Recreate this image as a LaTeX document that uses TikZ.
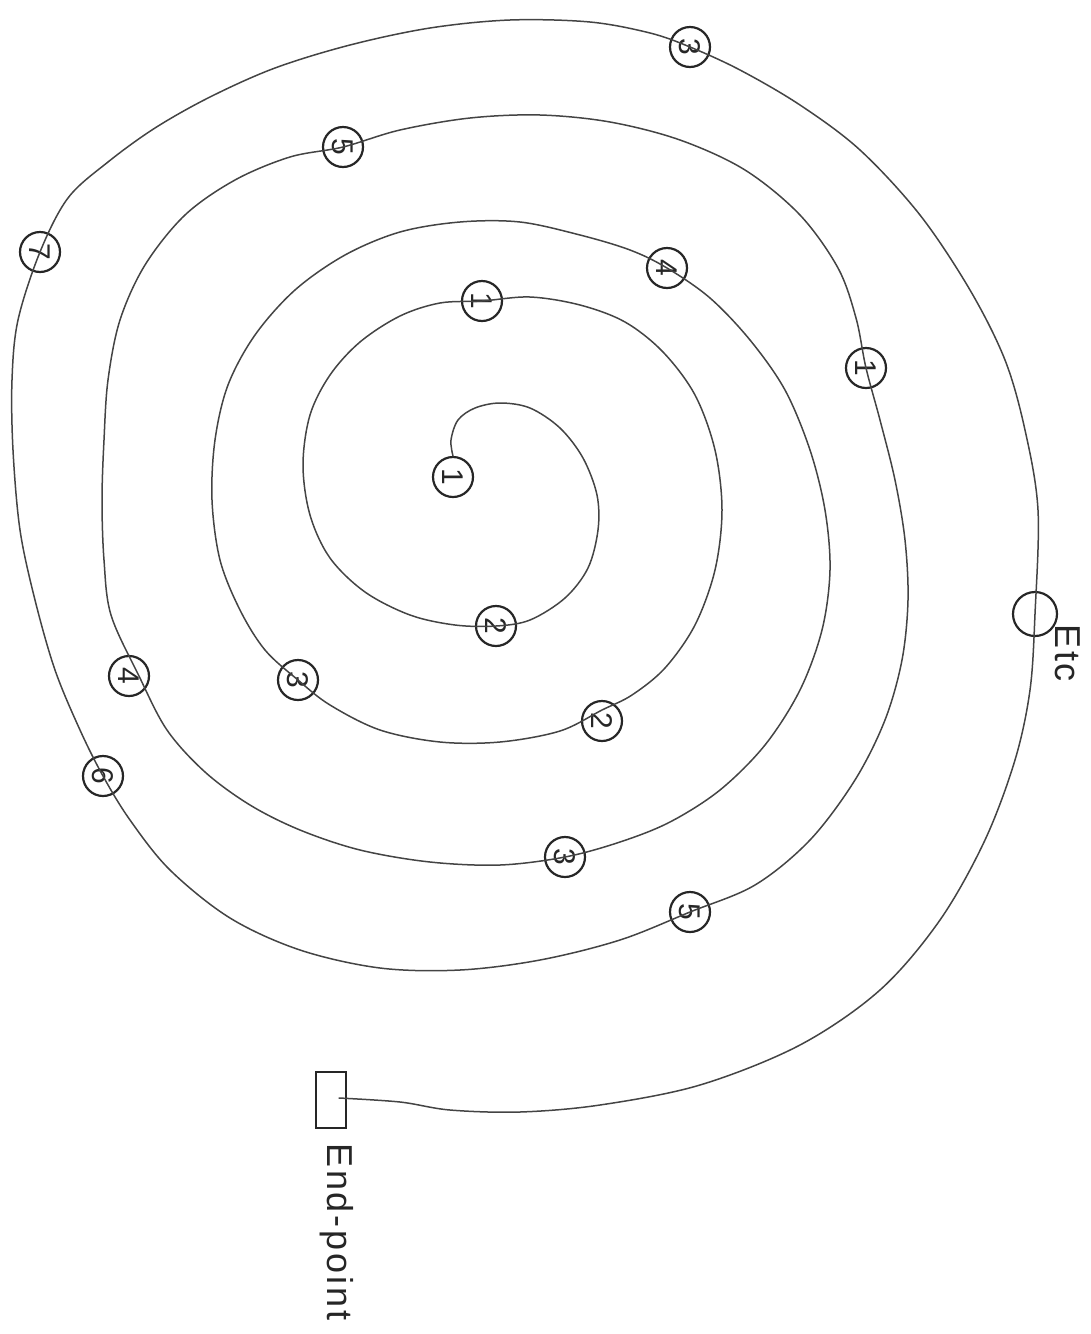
\documentclass[tikz,border=0pt]{standalone}
\usepackage{fontspec}
\newfontfamily\hand[LetterSpace=8]{Liberation Sans}
\newfontfamily\handnum{Liberation Sans}
\usetikzlibrary{calc}
\definecolor{ink}{HTML}{262626}
\definecolor{pen}{HTML}{444444}
\tikzset{
  num/.style={circle, draw=ink, line width=2.2pt, minimum size=40pt, inner sep=0pt,
    font=\fontsize{30}{30}\selectfont\handnum, text=ink, rotate=-90},
  spiral/.style={draw=pen, line width=1.5pt, line cap=round, line join=round},
  lbl/.style={font=\fontsize{36}{36}\selectfont\hand, text=ink, rotate=-90, inner sep=0pt}
}
\begin{document}
\begin{tikzpicture}[x=1pt,y=-1pt]
\useasboundingbox (0,0) rectangle (1091,1334);
% circled numbers
\node[num] (c1) at (453,477) {1};
\node[num] (a2) at (496,626) {2};
\node[num] (b1) at (482,301) {1};
\node[num] (b2) at (602,721) {2};
\node[num] (b3) at (298,680) {3};
\node[num] (b4) at (667,268) {4};
\node[num] (d3) at (565,857) {3};
\node[num] (d4) at (129,676) {4};
\node[num] (d5) at (343,147) {5};
\node[num] (e1) at (866,368) {1};
\node[num] (e5) at (690,912) {5};
\node[num] (e6) at (103,776) {6};
\node[num] (e7) at (40,252) {7};
\node[num] (e3) at (690,47) {3};
\node[num, minimum size=44pt] (etc) at (1035,614) {};
\node[lbl, anchor=west] (etct) at (1068,624) {Etc};
% end point
\node[draw=ink, line width=2.6pt, minimum width=30pt, minimum height=56pt, inner sep=0pt] (endbox) at (331,1100) {};
\coordinate (endin) at (339,1098);
\node[lbl, anchor=west] (endt) at (337,1143) {End-point};
% the spiral
\draw[spiral] plot[smooth, tension=0.55] coordinates {
 (c1.west) (451,440) (458,420) (475,408) (500,403) (530,408) (560,428) (583,458)
 (597,495) (598,530) (588,568) (565,598) (530,620) (a2)
 (455,625) (410,615) (365,592) (330,558) (310,515) (303,465) (310,415) (330,375)
 (360,342) (400,316) (440,303) (b1)
 (530,297) (580,305) (625,322) (663,352) (695,395) (715,450) (722,510) (715,570)
 (695,625) (665,668) (632,695) ([yshift=11pt]b2.center)
 (560,731) (500,742) (440,742) (380,730) (330,705) (b3)
 (265,650) (240,610) (220,560) (212,500) (215,440) (228,385) (255,335) (295,290)
 (345,255) (400,232) (460,222) (520,222) (580,235) (630,250) (b4)
 (710,298) (750,340) (785,390) (810,450) (825,510) (830,570) (822,630) (800,690)
 (765,745) (720,790) (670,822) (620,842) (d3)
 (500,865) (430,862) (360,850) (300,830) (250,805) (205,772) (167,730)
 ([xshift=10pt]d4.center)
 (111,615) (104,560) (102,500) (104,440) (108,380) (120,320) (145,265) (185,215)
 (235,180) (290,157) (d5)
 (400,130) (470,118) (540,115) (610,122) (680,140) (745,170) (800,215) (838,268)
 (856,318) (e1)
 (880,420) (895,480) (905,540) (908,600) (902,660) (885,720) (855,780) (810,840)
 (755,885) (e5)
 (620,940) (540,960) (460,970) (380,968) (300,950) (230,918) (170,870) (130,820) (e6)
 (80,730) (55,670) (35,600) (20,530) (13,450) (12,380) (18,320) (e7)
 (68,198) (108,162) (155,128) (210,97) (275,68) (350,45) (430,28) (510,20) (590,22)
 (650,33) (e3)
 (740,70) (800,105) (860,150) (920,215) (970,290) (1005,360) (1025,430) (1038,510)
 (etc)
 (1030,690) (1015,760) (985,840) (940,920) (880,990) (800,1045) (700,1085)
 (600,1105) (520,1112) (450,1110) (400,1102) (endin)
};
\end{tikzpicture}
\end{document}
